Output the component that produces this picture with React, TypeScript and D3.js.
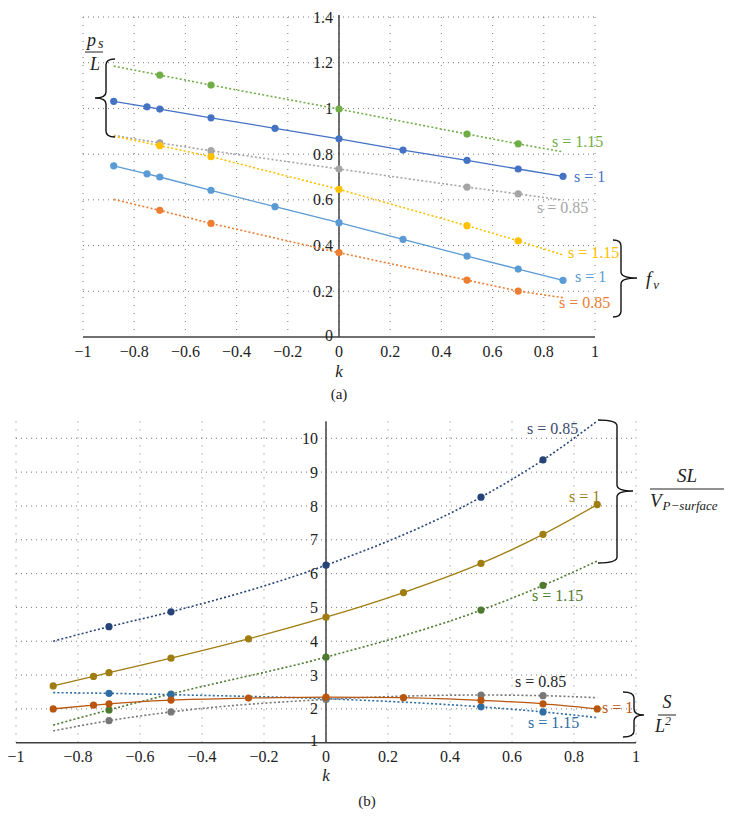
import React from "react";
import * as d3 from "d3";

// ---------- data ----------
const kFull = [-0.88, -0.75, -0.7, -0.5, -0.25, 0, 0.25, 0.5, 0.7, 0.875];
const kDotted = [-0.88, -0.7, -0.5, 0, 0.5, 0.7, 0.875];

// (a) p_s / L
const psL_s115 = [1.185, 1.146, 1.102, 0.997, 0.888, 0.845, 0.81];
const psL_s1 = [1.031, 1.007, 0.997, 0.959, 0.913, 0.867, 0.818, 0.773, 0.735, 0.703];
const psL_s085 = [0.882, 0.849, 0.815, 0.735, 0.656, 0.626, 0.599];
// (a) f_v
const fv_s115 = [0.879, 0.837, 0.789, 0.646, 0.487, 0.421, 0.359];
const fv_s1 = [0.749, 0.714, 0.7, 0.642, 0.57, 0.5, 0.427, 0.354, 0.297, 0.248];
const fv_s085 = [0.602, 0.554, 0.497, 0.369, 0.249, 0.201, 0.172];

// (b) SL / V
const slv_s085 = [4.0, 4.43, 4.87, 6.25, 8.26, 9.36, 10.51];
const slv_s1 = [2.68, 2.96, 3.07, 3.5, 4.07, 4.71, 5.44, 6.3, 7.16, 8.04];
const slv_s115 = [1.52, 1.97, 2.44, 3.53, 4.92, 5.65, 6.37];
// (b) S / L^2
const sl2_s115 = [2.48, 2.46, 2.42, 2.3, 2.06, 1.91, 1.74];
const sl2_s1 = [2.0, 2.11, 2.15, 2.26, 2.32, 2.35, 2.33, 2.25, 2.15, 2.0];
const sl2_s085 = [1.35, 1.65, 1.91, 2.28, 2.41, 2.39, 2.33];

const xTicks = [-1, -0.8, -0.6, -0.4, -0.2, 0, 0.2, 0.4, 0.6, 0.8, 1];
const yTicksA = [0, 0.2, 0.4, 0.6, 0.8, 1, 1.2, 1.4];
const yTicksB = [1, 2, 3, 4, 5, 6, 7, 8, 9, 10];

const FONT = "Liberation Serif";

const fmt = (v: number) => {
  const s = String(Math.round(v * 100) / 100);
  return s.replace("-", "\u2212");
};

function brace(xe: number, xm: number, xt: number, y1: number, y2: number, ym: number) {
  const r = 6;
  return `M${xe},${y1} Q${xm},${y1} ${xm},${y1 + r} L${xm},${ym - r} Q${xm},${ym} ${xt},${ym} Q${xm},${ym} ${xm},${ym + r} L${xm},${y2 - r} Q${xm},${y2} ${xe},${y2}`;
}

type SeriesProps = {
  xs: d3.ScaleLinear<number, number>;
  ys: d3.ScaleLinear<number, number>;
  ks: number[];
  vs: number[];
  color: string;
  dotted: boolean;
  curve: d3.CurveFactory;
};

function Series({ xs, ys, ks, vs, color, dotted, curve }: SeriesProps) {
  const pts: [number, number][] = ks.map((k, i) => [k, vs[i]]);
  const line = d3
    .line<[number, number]>()
    .x((d) => xs(d[0]))
    .y((d) => ys(d[1]))
    .curve(curve);
  const marks = dotted ? pts.slice(1, pts.length - 1) : pts;
  return (
    <g>
      <path
        d={line(pts) || ""}
        fill="none"
        stroke={color}
        strokeWidth={dotted ? 1.6 : 1.3}
        strokeDasharray={dotted ? "2,2.2" : undefined}
      />
      {marks.map((p, i) => (
        <circle key={i} cx={xs(p[0])} cy={ys(p[1])} r={3.6} fill={color} />
      ))}
    </g>
  );
}

function Grid({
  xs,
  ys,
  yTicks,
  yTop,
}: {
  xs: d3.ScaleLinear<number, number>;
  ys: d3.ScaleLinear<number, number>;
  yTicks: number[];
  yTop: number;
}) {
  const [x0, x1] = xs.range();
  const y0 = ys(ys.domain()[0]);
  return (
    <g stroke="#777" strokeWidth={1} fill="none">
      {yTicks.slice(1).map((t) => (
        <line key={"h" + t} x1={x0} x2={x1} y1={ys(t)} y2={ys(t)} strokeDasharray="1,4" />
      ))}
      {xTicks.map((t) => (
        <line key={"v" + t} x1={xs(t)} x2={xs(t)} y1={yTop} y2={y0} strokeDasharray="1,7" />
      ))}
    </g>
  );
}

export default function App() {
  const xA = d3.scaleLinear().domain([-1, 1]).range([83, 595]);
  const yA = d3.scaleLinear().domain([0, 1.4]).range([337, 17]);
  const xB = d3.scaleLinear().domain([-1, 1]).range([16, 636]);
  const yB = d3.scaleLinear().domain([1, 10]).range([742.7, 438.3]);
  const yBTop = yB(10.5);

  return (
    <svg
      width={735}
      height={834}
      style={{ position: "absolute", left: 0, top: 0, background: "#fff" }}
    >
      <rect width={735} height={834} fill="#fff" />
      <g fontFamily={FONT}>
        {/* ================= (a) ================= */}
        <Grid xs={xA} ys={yA} yTicks={yTicksA} yTop={17} />
        <line x1={xA(0)} x2={xA(0)} y1={15} y2={yA(0)} stroke="#404040" strokeWidth={1.5} />
        <line x1={xA(-1)} x2={xA(1)} y1={yA(0)} y2={yA(0)} stroke="#404040" strokeWidth={1.5} />
        {yTicksA.map((t) => (
          <text key={t} x={xA(0) - 6} y={yA(t) - (t === 0 ? 2 : 0)} dy="0.35em" textAnchor="end" fontSize={16} fill="#222">
            {fmt(t)}
          </text>
        ))}
        {xTicks.map((t) => (
          <text key={t} x={xA(t)} y={357} textAnchor="middle" fontSize={16} fill="#222">
            {fmt(t)}
          </text>
        ))}
        <text x={xA(0)} y={377} textAnchor="middle" fontSize={17} fontStyle="italic" fill="#222">
          k
        </text>
        <text x={339} y={399} textAnchor="middle" fontSize={15} fill="#222">
          (a)
        </text>

        <Series xs={xA} ys={yA} ks={kDotted} vs={psL_s115} color="#70AD47" dotted curve={d3.curveLinear} />
        <Series xs={xA} ys={yA} ks={kFull} vs={psL_s1} color="#4472C4" dotted={false} curve={d3.curveLinear} />
        <Series xs={xA} ys={yA} ks={kDotted} vs={psL_s085} color="#A5A5A5" dotted curve={d3.curveLinear} />
        <Series xs={xA} ys={yA} ks={kDotted} vs={fv_s115} color="#FFC000" dotted curve={d3.curveLinear} />
        <Series xs={xA} ys={yA} ks={kFull} vs={fv_s1} color="#5B9BD5" dotted={false} curve={d3.curveLinear} />
        <Series xs={xA} ys={yA} ks={kDotted} vs={fv_s085} color="#ED7D31" dotted curve={d3.curveLinear} />

        <g fontSize={16}>
          <text x={552} y={147} fill="#70AD47">s = 1.15</text>
          <text x={574} y={182} fill="#4472C4">s = 1</text>
          <text x={537} y={213} fill="#A5A5A5">s = 0.85</text>
          <text x={568} y={258} fill="#FFC000">s = 1.15</text>
          <text x={575} y={282} fill="#5B9BD5">s = 1</text>
          <text x={559} y={308} fill="#ED7D31">s = 0.85</text>
        </g>

        <path d={brace(115, 106, 95, 59, 137, 98)} fill="none" stroke="#111" strokeWidth={1.4} />
        <path d={brace(613, 621, 637, 240, 317, 278)} fill="none" stroke="#111" strokeWidth={1.4} />

        <g fontStyle="italic" fill="#222">
          <text x={87} y={46} fontSize={18}>
            p<tspan dx={2} dy={2} fontSize={14}>s</tspan>
          </text>
          <line x1={85} x2={103} y1={52} y2={52} stroke="#222" strokeWidth={1} />
          <text x={90} y={70} fontSize={18}>L</text>
          <text x={646} y={285} fontSize={19}>
            f<tspan dx={2} dy={4} fontSize={13}>v</tspan>
          </text>
        </g>

        {/* ================= (b) ================= */}
        <Grid xs={xB} ys={yB} yTicks={yTicksB} yTop={yBTop} />
        <line x1={xB(0)} x2={xB(0)} y1={yBTop} y2={yB(1)} stroke="#404040" strokeWidth={1.5} />
        <line x1={xB(-1)} x2={xB(1)} y1={yB(1)} y2={yB(1)} stroke="#404040" strokeWidth={1.5} />
        {yTicksB.map((t) => (
          <text key={t} x={xB(0) - 8} y={yB(t) - (t === 1 ? 2 : 0)} dy="0.35em" textAnchor="end" fontSize={16} fill="#222">
            {fmt(t)}
          </text>
        ))}
        {xTicks.map((t) => (
          <text key={t} x={xB(t)} y={762} textAnchor="middle" fontSize={16} fill="#222">
            {fmt(t)}
          </text>
        ))}
        <text x={xB(0)} y={781} textAnchor="middle" fontSize={17} fontStyle="italic" fill="#222">
          k
        </text>
        <text x={367} y={806} textAnchor="middle" fontSize={15} fill="#222">
          (b)
        </text>

        <Series xs={xB} ys={yB} ks={kDotted} vs={slv_s085} color="#264478" dotted curve={d3.curveMonotoneX} />
        <Series xs={xB} ys={yB} ks={kFull} vs={slv_s1} color="#A07D10" dotted={false} curve={d3.curveMonotoneX} />
        <Series xs={xB} ys={yB} ks={kDotted} vs={slv_s115} color="#4E7A30" dotted curve={d3.curveMonotoneX} />
        <Series xs={xB} ys={yB} ks={kDotted} vs={sl2_s115} color="#2E6CA4" dotted curve={d3.curveMonotoneX} />
        <Series xs={xB} ys={yB} ks={kDotted} vs={sl2_s085} color="#777777" dotted curve={d3.curveMonotoneX} />
        <Series xs={xB} ys={yB} ks={kFull} vs={sl2_s1} color="#B8560F" dotted={false} curve={d3.curveMonotoneX} />

        <g fontSize={16}>
          <text x={527} y={434} fill="#3B4B6E">s = 0.85</text>
          <text x={569} y={502} fill="#A07D10">s = 1</text>
          <text x={532} y={601} fill="#4E7A30">s = 1.15</text>
          <text x={515} y={687} fill="#222">s = 0.85</text>
          <text x={602} y={713} fill="#B8560F">s = 1</text>
          <text x={528} y={728} fill="#2E6CA4">s = 1.15</text>
        </g>

        <path d={brace(598, 617, 633, 420, 563, 491)} fill="none" stroke="#111" strokeWidth={1.4} />
        <path d={brace(623, 634, 644, 692, 737, 715)} fill="none" stroke="#111" strokeWidth={1.4} />

        <g fontStyle="italic" fill="#222">
          <text x={687} y={482} fontSize={19} textAnchor="middle">SL</text>
          <line x1={650} x2={724} y1={489} y2={489} stroke="#222" strokeWidth={1} />
          <text x={650} y={507} fontSize={19}>
            V<tspan dx={1} dy={3} fontSize={13}>P{"\u2212"}surface</tspan>
          </text>
          <text x={667} y={708} fontSize={18} textAnchor="middle">S</text>
          <line x1={658} x2={676} y1={715} y2={715} stroke="#222" strokeWidth={1} />
          <text x={663} y={732} fontSize={18} textAnchor="middle">
            L<tspan dy={-7} fontSize={12}>2</tspan>
          </text>
        </g>
      </g>
    </svg>
  );
}
